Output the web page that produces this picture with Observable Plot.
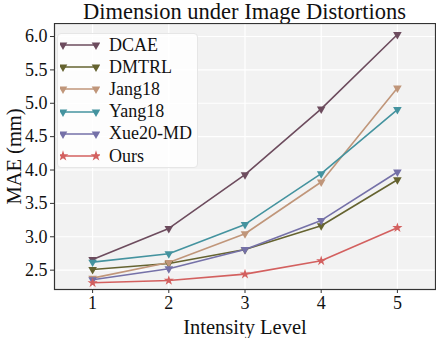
<!DOCTYPE html>
<html>
<head>
<meta charset="utf-8">
<script src="https://cdn.jsdelivr.net/npm/d3@7"></script>
<script src="https://cdn.jsdelivr.net/npm/@observablehq/plot@0.6"></script>
<style>
  body { margin: 0; background: #fff; font-family: "Liberation Serif", "DejaVu Serif", serif; }
  #wrap { position: relative; width: 436px; height: 338px; }
  #title { position: absolute; left: 54px; width: 381px; top: 0; height: 24px; line-height: 24px; text-align: center; font-size: 22.5px; color: #111; white-space: nowrap; }
  #chart { position: absolute; left: 0; top: 23px; }
  [aria-label="y-axis tick label"], [aria-label="x-axis tick label"] { font-size: 18px; }
  [aria-label="y-axis label"], [aria-label="x-axis label"] { font-size: 20.5px; }
  #legend { position: absolute; left: 57px; top: 33px; width: 141px; height: 135px; background: rgba(255,255,255,0.8); border: 1px solid #e6e6e6; border-radius: 4px; box-sizing: border-box; }
  .row { position: absolute; left: 2px; height: 22px; display: flex; align-items: center; font-size: 18px; color: #111; white-space: nowrap; }
  .row svg { margin-right: 9px; }
</style>
</head>
<body>
<div id="wrap">
  <div id="title">Dimension under Image Distortions</div>
  <div id="chart"></div>
  <div id="legend"></div>
</div>
<script>
const levels = [1, 2, 3, 4, 5];
const seriesNames = ["DCAE", "DMTRL", "Jang18", "Yang18", "Xue20-MD", "Ours"];
const colors = ["#6d4c5e", "#656330", "#c0967a", "#44939f", "#7571a8", "#d3605f"];
const symbols = ["triangle", "triangle", "triangle", "triangle", "triangle", "star"];
const DCAE = [2.66, 3.125, 3.93, 4.915, 6.03];
const DMTRL = [2.51, 2.60, 2.81, 3.165, 3.855];
const Jang18 = [2.38, 2.615, 3.045, 3.82, 5.23];
const Yang18 = [2.62, 2.745, 3.185, 3.945, 4.905];
const Xue20MD = [2.355, 2.52, 2.81, 3.245, 3.97];
const Ours = [2.31, 2.345, 2.44, 2.64, 3.135];
const yTicks = [2.5, 3.0, 3.5, 4.0, 4.5, 5.0, 5.5, 6.0];

const allValues = [DCAE, DMTRL, Jang18, Yang18, Xue20MD, Ours];
const data = [];
seriesNames.forEach((name, i) => {
  levels.forEach((lv, j) => data.push({series: name, level: lv, mae: allValues[i][j], sym: symbols[i]}));
});

const chart = Plot.plot({
  width: 436,
  height: 315,
  marginLeft: 54,
  marginRight: 1,
  marginTop: 0,
  marginBottom: 49,
  style: {fontFamily: "'Liberation Serif', 'DejaVu Serif', serif", color: "#111", background: "transparent"},
  x: {domain: [0.5, 5.5]},
  y: {domain: [2.21, 6.195]},
  color: {domain: seriesNames, range: colors},
  marks: [
    Plot.frame({fill: "#f2f2f2", stroke: null}),
    Plot.gridX(levels, {stroke: "#fff", strokeOpacity: 1, strokeWidth: 1.2}),
    Plot.gridY(yTicks, {stroke: "#fff", strokeOpacity: 1, strokeWidth: 1.2}),
    Plot.line(data, {x: "level", y: "mae", z: "series", stroke: "series", strokeWidth: 1.6}),
    Plot.dot(data.filter(d => d.sym === "triangle"), {x: "level", y: "mae", fill: "series", symbol: "triangle", r: 3.2, rotate: 180}),
    Plot.dot(data.filter(d => d.sym === "star"), {x: "level", y: "mae", fill: "series", symbol: "star", r: 3.2}),
    Plot.frame({stroke: "#333", strokeWidth: 1.2}),
    Plot.axisX(levels, {tickSize: 4, tickPadding: 3, tickFormat: d => String(d), label: "Intensity Level", labelAnchor: "center", labelArrow: false, labelOffset: 44, stroke: "#333"}),
    Plot.axisY(yTicks, {tickSize: 4, tickPadding: 3, tickFormat: d3.format(".1f"), label: "MAE (mm)", labelAnchor: "center", labelArrow: false, labelOffset: 48, stroke: "#333"})
  ]
});
document.getElementById("chart").appendChild(chart);

// Legend
const legend = document.getElementById("legend");
const ns = "http://www.w3.org/2000/svg";
seriesNames.forEach((name, i) => {
  const row = document.createElement("div");
  row.className = "row";
  row.style.top = (0 + i * 22.2) + "px";
  const s = document.createElementNS(ns, "svg");
  s.setAttribute("width", "40");
  s.setAttribute("height", "22");
  const ln = document.createElementNS(ns, "line");
  ln.setAttribute("x1", 3); ln.setAttribute("x2", 36);
  ln.setAttribute("y1", 11); ln.setAttribute("y2", 11);
  ln.setAttribute("stroke", colors[i]); ln.setAttribute("stroke-width", 1.6);
  s.appendChild(ln);
  const sym = symbols[i] === "star" ? d3.symbol(d3.symbolStar, 36) : d3.symbol(d3.symbolTriangle, 32);
  [3, 36].forEach(cx => {
    const p = document.createElementNS(ns, "path");
    p.setAttribute("d", sym());
    p.setAttribute("fill", colors[i]);
    p.setAttribute("transform", `translate(${cx},11)` + (symbols[i] === "triangle" ? " rotate(180)" : ""));
    s.appendChild(p);
  });
  row.appendChild(s);
  const t = document.createElement("span");
  t.textContent = name;
  row.appendChild(t);
  legend.appendChild(row);
});
</script>
</body>
</html>
